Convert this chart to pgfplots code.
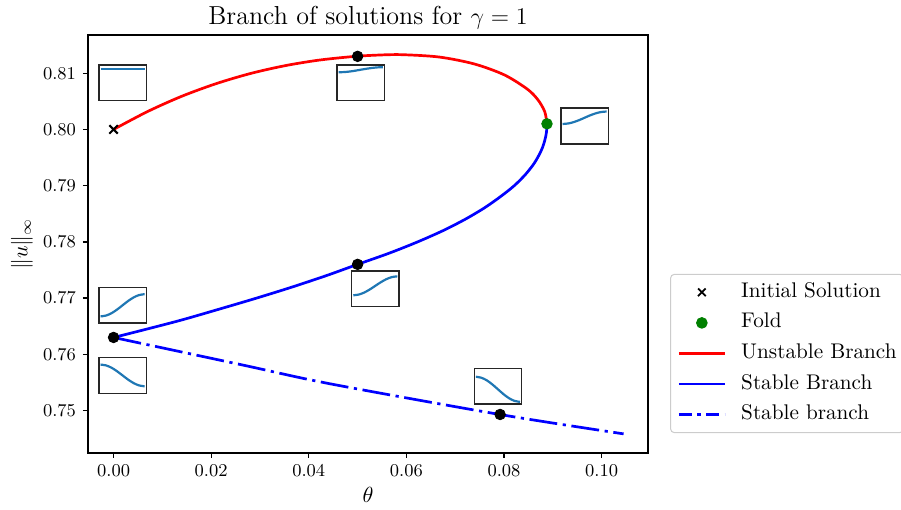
\documentclass[border=0pt]{standalone}
\usepackage{pgfplots}
\pgfplotsset{compat=1.18}

\definecolor{profileblue}{HTML}{1F77B4}
\definecolor{foldgreen}{HTML}{008000}

\pgfplotsset{
  inset/.style={
    width=23.7pt, height=17.85pt, scale only axis,
    xmin=0, xmax=1, ymin=0, ymax=1,
    xtick=\empty, ytick=\empty,
    axis line style={line width=0.7pt, black!85},
    axis background/.style={fill=white},
    anchor=south west,
  },
  profile/.style={profileblue, line width=1.1pt, smooth, no marks},
  dashdot/.style={dash pattern=on 14pt off 2.8pt on 1.6pt off 2.8pt},
}

\begin{document}
\begin{tikzpicture}
\begin{axis}[
  width=280pt, height=209pt, scale only axis,
  xmin=-0.00524, xmax=0.1095, ymin=0.74245, ymax=0.8168,
  xtick={0,0.02,0.04,0.06,0.08,0.10},
  ytick={0.75,0.76,0.77,0.78,0.79,0.80,0.81},
  scaled ticks=false,
  xticklabel style={/pgf/number format/.cd, fixed, fixed zerofill, precision=2},
  yticklabel style={/pgf/number format/.cd, fixed, fixed zerofill, precision=2},
  tick label style={font=\fontsize{9.1}{10}\selectfont},
  tick align=outside, tick pos=left, major tick length=2.5pt,
  axis line style={line width=0.65pt},
  every tick/.style={black, line width=0.65pt},
  title={Branch of solutions for $\gamma = 1$},
  every axis title/.style={at={(rel axis cs:0.5,1)}, anchor=base, yshift=5pt, font=\fontsize{13}{15}\selectfont},
  xlabel={$\theta$}, ylabel={$\|u\|_\infty$},
  every axis x label/.style={at={(rel axis cs:0.5,0)}, yshift=-21.2pt, anchor=center, font=\fontsize{10.6}{12}\selectfont},
  every axis y label/.style={at={(rel axis cs:0,0.5)}, xshift=-33pt, rotate=90, anchor=center, font=\fontsize{10.6}{12}\selectfont},
  legend cell align=left,
  legend style={at={(1.0393,0.238)}, anchor=west,
    font=\fontsize{10.6}{12}\selectfont,
    draw=black!20, rounded corners=2pt, line width=0.5pt,
    inner xsep=3.5pt, inner ysep=4pt, row sep=5.3pt, column sep=7.5pt,
    nodes={inner sep=0pt, text height=7.5pt, text depth=2.5pt}},
  legend image code/.code={\draw[mark repeat=2,mark phase=2,#1] plot coordinates {(0pt,0pt) (11.5pt,0pt) (23pt,0pt)};},
]

% unstable branch: from the initial solution up and over to the fold
\addplot[red, line width=1.35pt, smooth, forget plot] coordinates {
  (0.0000,0.80000) (0.0070,0.80320) (0.0140,0.80591) (0.0210,0.80814)
  (0.0280,0.80994) (0.0350,0.81132) (0.0420,0.81232) (0.0490,0.81296)
  (0.0540,0.81322) (0.0590,0.81330) (0.06671,0.81288) (0.0739,0.81165)
  (0.08007,0.80970) (0.08481,0.80715) (0.0870,0.80521) (0.08835,0.80314)
  (0.0888,0.80100)
};
% stable branch: from the fold back down to theta = 0
\addplot[blue, line width=1.35pt, smooth, forget plot] coordinates {
  (0.0888,0.8010) (0.08875,0.8000) (0.0886,0.7990) (0.08817,0.7975)
  (0.0875,0.7960) (0.0862,0.7940) (0.0844,0.7920) (0.0821,0.7900)
  (0.0792,0.7880) (0.0759,0.7860) (0.0720,0.7840) (0.0675,0.7820)
  (0.0623,0.7800) (0.0565,0.7780) (0.0500,0.7760) (0.0436,0.7740)
  (0.0367,0.7720) (0.0293,0.7700) (0.0215,0.7680) (0.0135,0.7660)
  (0.0046,0.7640) (0.0000,0.7630)
};
% second stable branch
\addplot[blue, line width=1.35pt, smooth, dashdot, forget plot] coordinates {
  (0.0000,0.7630) (0.0267,0.75805) (0.0444,0.75475) (0.0792,0.74929) (0.1045,0.74585)
};

% sampled solutions
\addplot[only marks, mark=*, mark size=2.65pt, black, forget plot] coordinates {
  (0,0.763) (0.05,0.776) (0.05,0.813) (0.0792,0.7493)
};
\addplot[only marks, mark=x, mark size=3pt, black, line width=1pt, forget plot] coordinates {(0,0.8)};
\addplot[only marks, mark=*, mark size=2.65pt, foldgreen, forget plot] coordinates {(0.0888,0.801)};

\addlegendimage{only marks, mark=x, mark size=2.7pt, black, line width=0.9pt}
\addlegendentry{Initial Solution}
\addlegendimage{only marks, mark=*, mark size=2.65pt, foldgreen}
\addlegendentry{Fold}
\addlegendimage{red, line width=1.35pt}
\addlegendentry{Unstable Branch}
\addlegendimage{blue, line width=1.35pt}
\addlegendentry{Stable Branch}
\addlegendimage{blue, line width=1.35pt, dash pattern=on 6.5pt off 2.8pt on 1.6pt off 2.8pt}
\addlegendentry{Stable branch}

% anchors for the solution profiles
\coordinate (in1) at (axis cs:-0.00301,0.80513);
\coordinate (in2) at (axis cs:0.04579,0.80513);
\coordinate (in3) at (axis cs:0.09165,0.79743);
\coordinate (in4) at (axis cs:0.04878,0.76847);
\coordinate (in5) at (axis cs:-0.00301,0.76558);
\coordinate (in6) at (axis cs:-0.00301,0.75307);
\coordinate (in7) at (axis cs:0.0739,0.75118);
\coordinate (bl) at (rel axis cs:0,0);
\coordinate (tr) at (rel axis cs:1,1);
\end{axis}

% solution profiles u(x)
\begin{axis}[inset, at={(in1)}]
\addplot[profile] coordinates {(0.035,0.888) (0.965,0.888)};
\end{axis}
\begin{axis}[inset, at={(in2)}]
\addplot[profile] coordinates {(0.035,0.794) (0.151,0.799) (0.268,0.815) (0.384,0.838) (0.5,0.865) (0.616,0.891) (0.733,0.914) (0.849,0.930) (0.965,0.935)};
\end{axis}
\begin{axis}[inset, at={(in3)}]
\addplot[profile] coordinates {(0.035,0.558) (0.151,0.571) (0.268,0.609) (0.384,0.665) (0.5,0.732) (0.616,0.799) (0.733,0.855) (0.849,0.893) (0.965,0.906)};
\end{axis}
\begin{axis}[inset, at={(in4)}]
\addplot[profile] coordinates {(0.035,0.320) (0.151,0.340) (0.268,0.398) (0.384,0.484) (0.5,0.585) (0.616,0.686) (0.733,0.772) (0.849,0.830) (0.965,0.850)};
\end{axis}
\begin{axis}[inset, at={(in5)}]
\addplot[profile] coordinates {(0.035,0.183) (0.151,0.207) (0.268,0.274) (0.384,0.375) (0.5,0.495) (0.616,0.614) (0.733,0.715) (0.849,0.782) (0.965,0.806)};
\end{axis}
\begin{axis}[inset, at={(in6)}]
\addplot[profile] coordinates {(0.035,0.804) (0.151,0.781) (0.268,0.715) (0.384,0.616) (0.5,0.500) (0.616,0.384) (0.733,0.285) (0.849,0.219) (0.965,0.196)};
\end{axis}
\begin{axis}[inset, at={(in7)}]
\addplot[profile] coordinates {(0.035,0.760) (0.151,0.733) (0.268,0.657) (0.384,0.543) (0.5,0.409) (0.616,0.274) (0.733,0.160) (0.849,0.084) (0.965,0.057)};
\end{axis}

\pgfresetboundingbox
\path[use as bounding box] ([shift={(-44pt,-28.5pt)}]bl) rectangle ([shift={(126.5pt,17.5pt)}]tr);
\end{tikzpicture}
\end{document}
